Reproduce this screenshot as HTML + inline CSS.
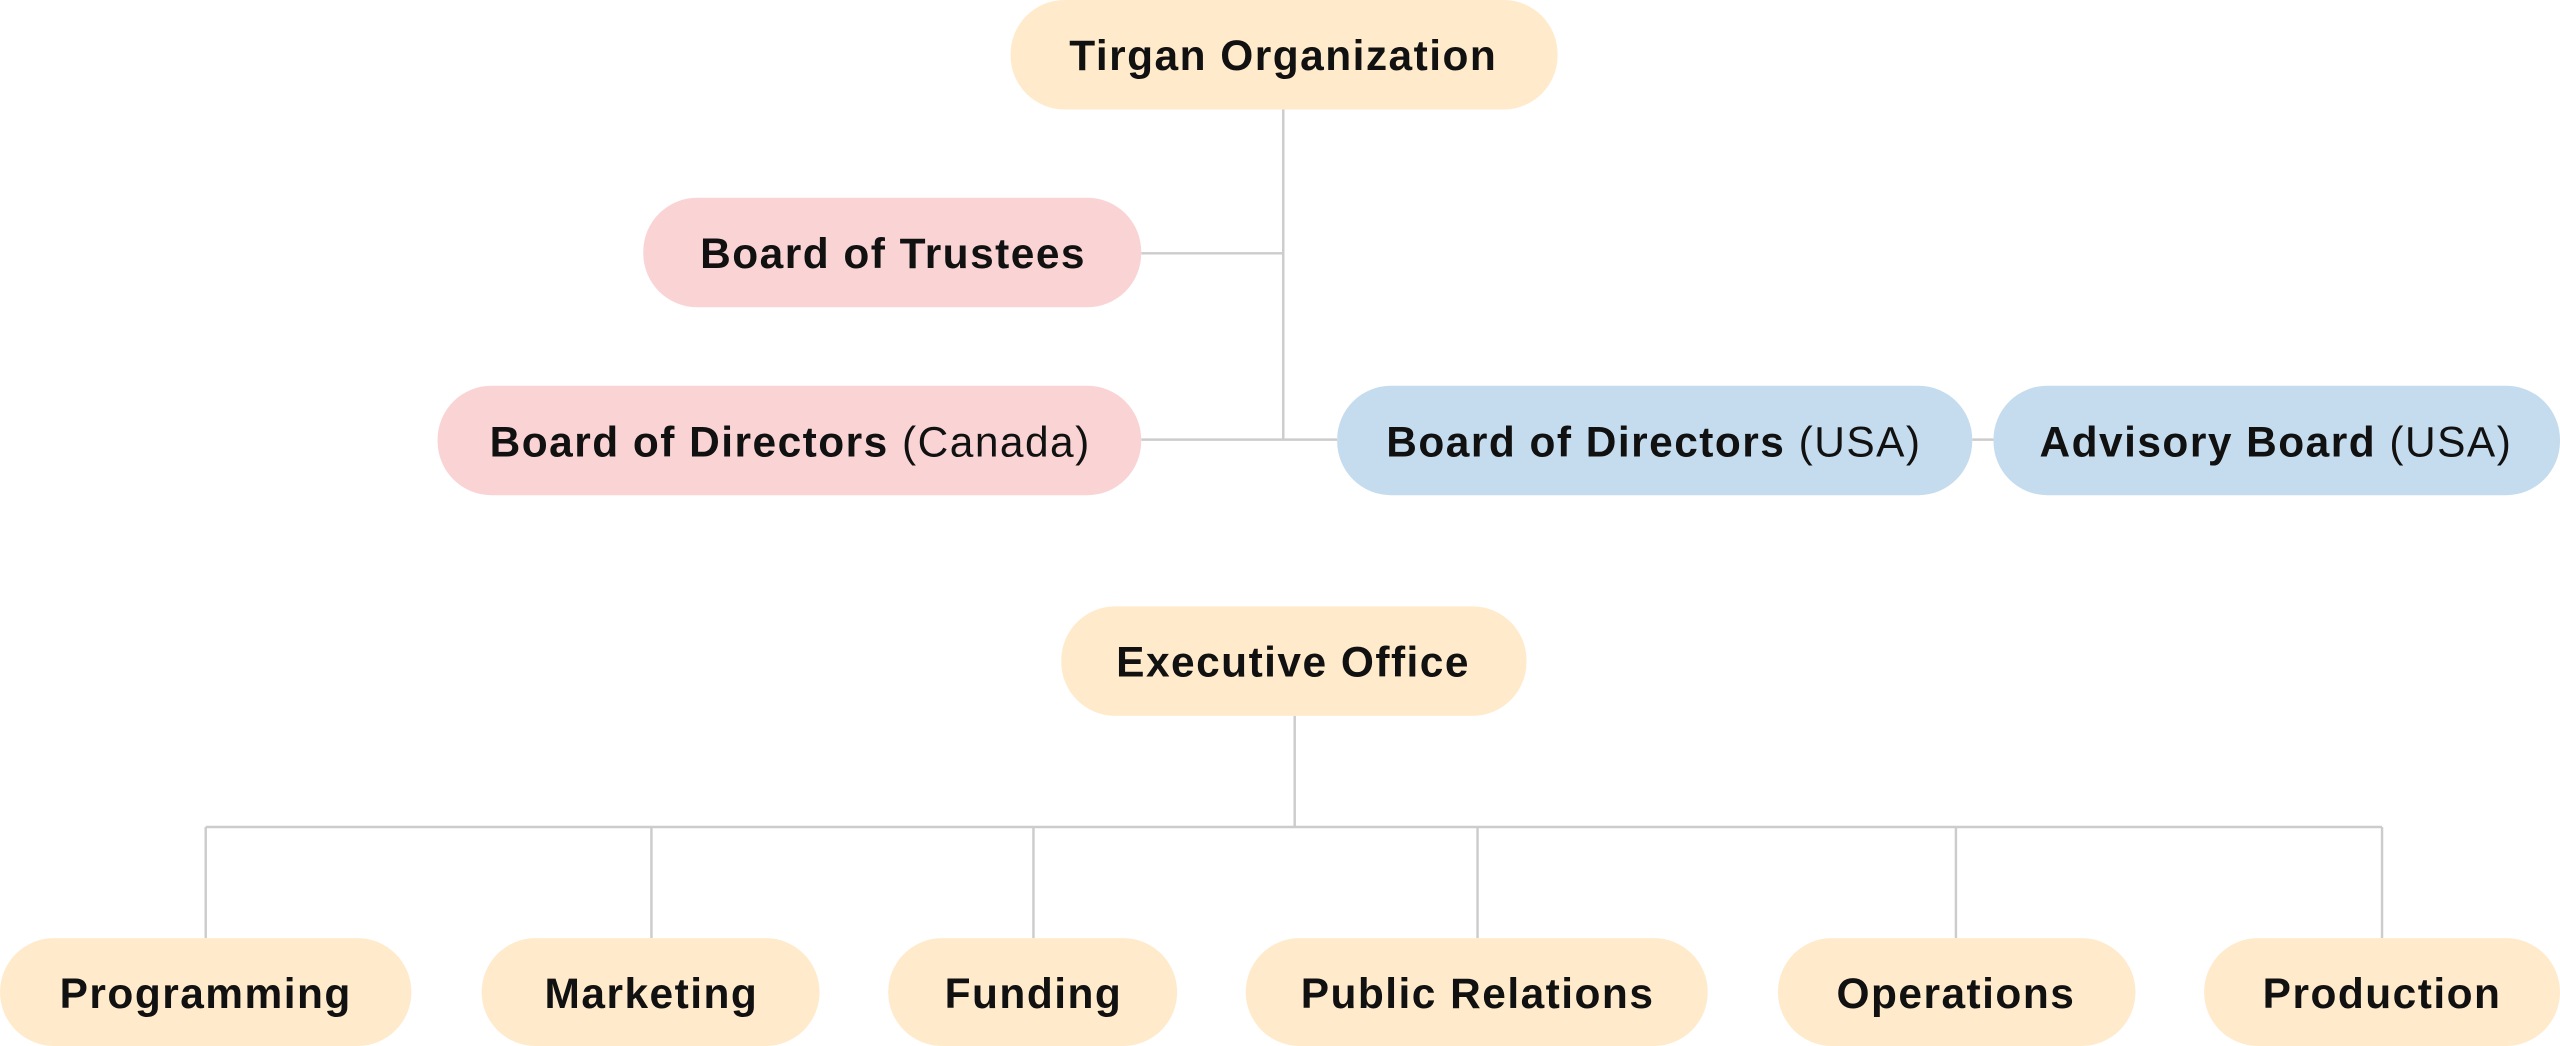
<!DOCTYPE html>
<html><head><meta charset="utf-8"><style>
html,body{margin:0;padding:0;background:#fff;}
svg{display:block;}
text{font-family:"Liberation Sans",sans-serif;font-size:26px;letter-spacing:0.9px;fill:#111;text-anchor:middle;dominant-baseline:central;}
.b{font-weight:bold;}
.l{font-weight:normal;}
</style></head><body>
<svg width="2560" height="1046" viewBox="0 0 1568 640" preserveAspectRatio="none" xmlns="http://www.w3.org/2000/svg">
<g stroke="#cccccc" stroke-width="1.5" fill="none">
<line x1="786" y1="67" x2="786" y2="269"/>
<line x1="699" y1="155" x2="786" y2="155"/>
<line x1="699" y1="269" x2="819" y2="269"/>
<line x1="1208" y1="269" x2="1221" y2="269"/>
<line x1="793" y1="438" x2="793" y2="506"/>
<line x1="126" y1="506" x2="1459" y2="506"/>
<line x1="126" y1="506" x2="126" y2="574"/>
<line x1="399" y1="506" x2="399" y2="574"/>
<line x1="633" y1="506" x2="633" y2="574"/>
<line x1="905" y1="506" x2="905" y2="574"/>
<line x1="1198" y1="506" x2="1198" y2="574"/>
<line x1="1459" y1="506" x2="1459" y2="574"/>
</g>
<rect x="619" y="0" width="335" height="67" rx="33" fill="#FFEBCC"/>
<text x="786" y="34" class="b">Tirgan Organization</text>
<rect x="394" y="121" width="305" height="67" rx="33" fill="#FAD4D4"/>
<text x="547" y="155" class="b">Board of Trustees</text>
<rect x="268" y="236" width="431" height="67" rx="33" fill="#FAD4D4"/>
<text x="484" y="270"><tspan class="b">Board of Directors</tspan><tspan class="l"> (Canada)</tspan></text>
<rect x="819" y="236" width="389" height="67" rx="33" fill="#C5DCEE"/>
<text x="1013" y="270"><tspan class="b">Board of Directors</tspan><tspan class="l"> (USA)</tspan></text>
<rect x="1221" y="236" width="347" height="67" rx="33" fill="#C5DCEE"/>
<text x="1394" y="270"><tspan class="b">Advisory Board</tspan><tspan class="l"> (USA)</tspan></text>
<rect x="650" y="371" width="285" height="67" rx="33" fill="#FFEBCC"/>
<text x="792" y="405" class="b">Executive Office</text>
<rect x="0" y="574" width="252" height="66" rx="33" fill="#FFEBCC"/>
<text x="126" y="608" class="b">Programming</text>
<rect x="295" y="574" width="207" height="66" rx="33" fill="#FFEBCC"/>
<text x="399" y="608" class="b">Marketing</text>
<rect x="544" y="574" width="177" height="66" rx="33" fill="#FFEBCC"/>
<text x="633" y="608" class="b">Funding</text>
<rect x="763" y="574" width="283" height="66" rx="33" fill="#FFEBCC"/>
<text x="905" y="608" class="b">Public Relations</text>
<rect x="1089" y="574" width="219" height="66" rx="33" fill="#FFEBCC"/>
<text x="1198" y="608" class="b">Operations</text>
<rect x="1350" y="574" width="218" height="66" rx="33" fill="#FFEBCC"/>
<text x="1459" y="608" class="b">Production</text>
</svg>
</body></html>
